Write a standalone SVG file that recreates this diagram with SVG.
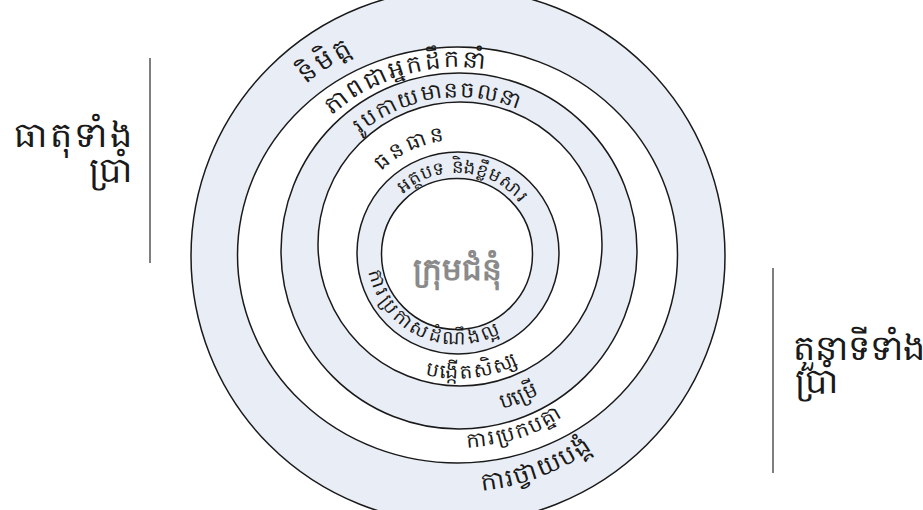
<svg xmlns="http://www.w3.org/2000/svg" width="923" height="510" viewBox="0 0 923 510">
<style>
.ring{stroke:#1a1a1a;stroke-width:1.5}
.sh{fill:#e9eef6}
.wh{fill:#ffffff}
.t{font-family:"Noto Sans","DejaVu Sans",sans-serif;fill:#1a1a1a}
.lbl{font-family:"Noto Sans","DejaVu Sans",sans-serif;fill:#1a1a1a;font-size:35px}
.side{stroke:#555;stroke-width:1.5}
</style>
<defs>
<path id="p1" d="M248.8,349.1 A229,229 0 0 1 622.7,96.9"/>
<path id="p2" d="M271.2,276.3 A188,188 0 0 1 626.2,171.1"/>
<path id="p3" d="M306.1,246.0 A153,153 0 0 1 604.1,201.5"/>
<path id="p4" d="M351.6,277.7 A110,110 0 0 1 548.5,187.5"/>
<path id="p5" d="M378.8,233.0 A81,81 0 0 1 537.7,246.9"/>
<path id="p6" d="M368.8,232.0 A91,91 0 0 0 532.4,304.9"/>
<path id="p7" d="M334.6,287.7 A129,129 0 0 0 586.8,256.8"/>
<path id="p8" d="M319.1,337.4 A165,165 0 0 0 620.4,215.7"/>
<path id="p9" d="M287.6,345.6 A193,193 0 0 0 649.1,228.1"/>
<path id="p10" d="M254.7,375.8 A236,236 0 0 0 690.0,213.0"/>
</defs>
<g id="rings">
<circle id="c1" class="ring sh" cx="458" cy="256" r="267"/>
<ellipse id="c2" class="ring wh" cx="457.5" cy="255" rx="220" ry="208"/>
<circle id="c3" class="ring sh" cx="459" cy="251" r="178"/>
<circle id="c4" class="ring wh" cx="460" cy="244" r="142"/>
<circle id="c5" class="ring sh" cx="458" cy="253" r="101"/>
<circle id="c6" class="ring wh" cx="457" cy="254" r="75.5"/>
</g>
<g id="ring-labels" class="t" text-anchor="middle">
<text font-size="26" letter-spacing="3"><textPath href="#p1" startOffset="50%">និមិត្ត</textPath></text>
<text font-size="24" letter-spacing="3"><textPath href="#p2" startOffset="50%">ភាពជាអ្នកដឹកនាំ</textPath></text>
<text font-size="22" letter-spacing="1.8"><textPath href="#p3" startOffset="50%">រូបកាយមានចលនា</textPath></text>
<text font-size="21" letter-spacing="4"><textPath href="#p4" startOffset="50%">ធនធាន</textPath></text>
<text font-size="18" letter-spacing="1"><textPath href="#p5" startOffset="50%">អត្ថបទ និងខ្លឹមសារ</textPath></text>
<text font-size="19" letter-spacing="3.2"><textPath href="#p6" startOffset="50%">ការប្រកាសដំណឹងល្អ</textPath></text>
<text font-size="20" letter-spacing="2"><textPath href="#p7" startOffset="50%">បង្កើតសិស្ស</textPath></text>
<text font-size="21" letter-spacing="1"><textPath href="#p8" startOffset="50%">បម្រើ</textPath></text>
<text font-size="21" letter-spacing="1.8"><textPath href="#p9" startOffset="50%">ការប្រកបគ្នា</textPath></text>
<text font-size="25" letter-spacing="1.5"><textPath href="#p10" startOffset="50%">ការថ្វាយបង្គំ</textPath></text>
</g>
<g id="center">
<text x="457" y="280" text-anchor="middle" font-family="Noto Sans, DejaVu Sans, sans-serif" font-size="31" font-weight="bold" fill="#8a8a8a">ក្រុមជំនុំ</text>
</g>
<g id="left-label">
<line class="side" x1="150" y1="58" x2="150" y2="263"/>
<text class="lbl" text-anchor="end" letter-spacing="2.5"><tspan x="134" y="147">ធាតុទាំង</tspan><tspan x="134" y="182">ប្រាំ</tspan></text>
</g>
<g id="right-label">
<line class="side" x1="773" y1="268" x2="773" y2="473"/>
<text class="lbl" font-size="30"><tspan x="793" y="360">តួនាទីទាំង</tspan><tspan x="795" y="393">ប្រាំ</tspan></text>
</g>
</svg>
